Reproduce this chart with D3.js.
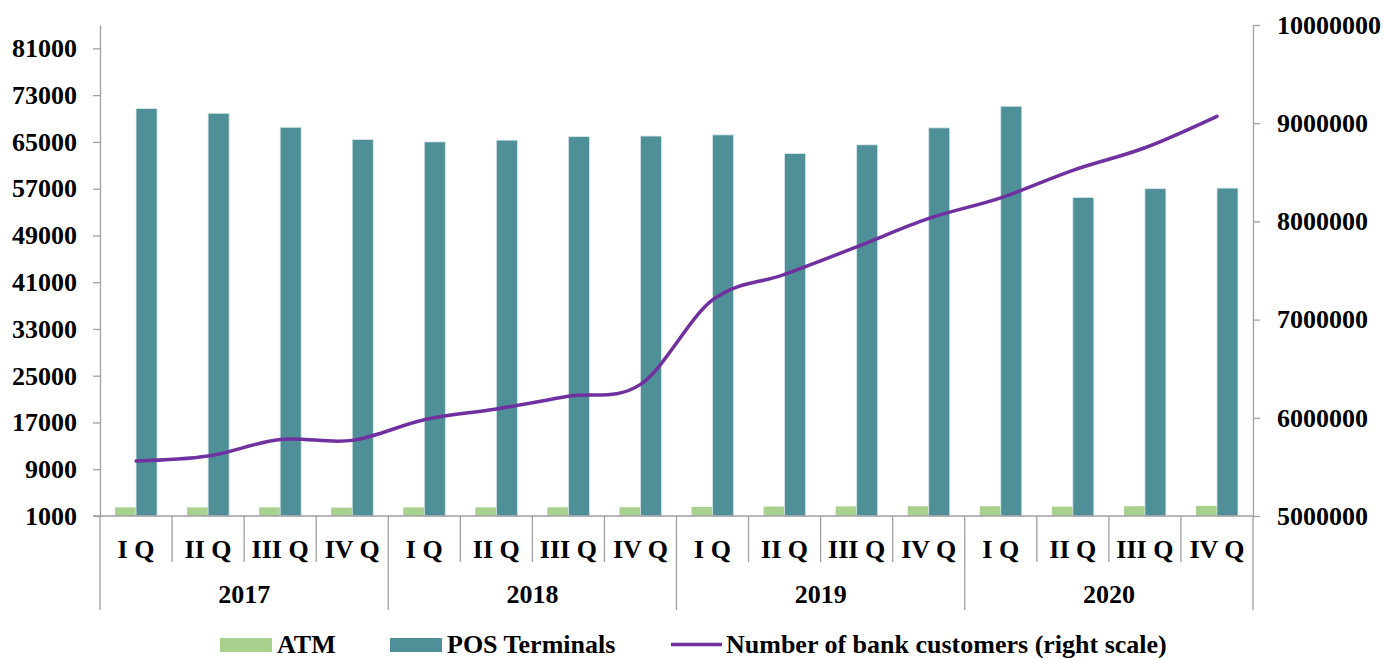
<!DOCTYPE html>
<html>
<head>
<meta charset="utf-8">
<script src="https://cdn.jsdelivr.net/npm/d3@7"></script>
<style>
  html, body { margin: 0; padding: 0; background: #fff; }
  svg text { font-family: "Liberation Serif", "Times New Roman", serif; font-weight: bold; fill: #000; }
</style>
</head>
<body>
<svg id="chart" width="1384" height="659"></svg>
<script>
const years = ["2017", "2018", "2019", "2020"];
const quarters = ["I Q", "II Q", "III Q", "IV Q"];
const atm = [2470, 2470, 2480, 2450, 2470, 2480, 2490, 2500, 2550, 2620, 2640, 2680, 2680, 2600, 2680, 2720];
const pos = [70700, 69900, 67500, 65400, 65000, 65300, 65900, 66000, 66200, 63000, 64500, 67400, 71100, 55500, 57000, 57100];
const customers = [5560000, 5610000, 5780000, 5770000, 5980000, 6090000, 6220000, 6340000, 7200000, 7460000, 7740000, 8030000, 8240000, 8520000, 8750000, 9070000];
const leftTicks = [1000, 9000, 17000, 25000, 33000, 41000, 49000, 57000, 65000, 73000, 81000];
const rightTicks = [5000000, 6000000, 7000000, 8000000, 9000000, 10000000];
const seriesNames = ["ATM", "POS Terminals", "Number of bank customers (right scale)"];

const colors = { atm: "#A9D18E", pos: "#4F8F97", line: "#7030A0", axis: "#A0A0A0" };
const m = { left: 100, right: 1253, top: 25, bottom: 516 };

const svg = d3.select("#chart");
const cats = d3.range(years.length * quarters.length);

const x = d3.scaleBand().domain(cats).range([m.left, m.right]);
const xSub = d3.scaleBand().domain(["atm", "pos"]).range([0, x.bandwidth()]).paddingOuter(0.714);
const yL = d3.scaleLinear().domain([1000, 85000]).range([m.bottom, m.top]);
const yR = d3.scaleLinear().domain([5000000, 10000000]).range([m.bottom, m.top]);

// Bars
const g = svg.append("g");
g.selectAll("rect.atm").data(atm).join("rect")
  .attr("class", "atm")
  .attr("x", (d, i) => x(i) + xSub("atm"))
  .attr("width", xSub.bandwidth())
  .attr("y", d => yL(d))
  .attr("height", d => yL(1000) - yL(d))
  .attr("fill", colors.atm);
g.selectAll("rect.pos").data(pos).join("rect")
  .attr("class", "pos")
  .attr("x", (d, i) => x(i) + xSub("pos"))
  .attr("width", xSub.bandwidth())
  .attr("y", d => yL(d))
  .attr("height", d => yL(1000) - yL(d))
  .attr("fill", colors.pos)
  .attr("stroke", "#d6e8ea").attr("stroke-width", 0.8);

// Left axis
const axL = svg.append("g").attr("transform", `translate(${m.left},0)`)
  .call(d3.axisLeft(yL).tickValues(leftTicks).tickFormat(d3.format("d")).tickSize(7).tickPadding(16).tickSizeOuter(0));
// Right axis
const axR = svg.append("g").attr("transform", `translate(${m.right},0)`)
  .call(d3.axisRight(yR).tickValues(rightTicks).tickFormat(d3.format("d")).tickSize(7).tickPadding(17).tickSizeOuter(0));
[axL, axR].forEach(a => {
  a.selectAll("path, line").attr("stroke", colors.axis).attr("stroke-width", 1.3);
  a.selectAll("text").attr("font-size", 26).attr("font-family", '"Liberation Serif", serif').attr("font-weight", "bold").attr("fill", "#000");
});

// Bottom category axis (multi-level)
const bx = svg.append("g");
bx.append("line").attr("x1", m.left - 7).attr("x2", m.right).attr("y1", m.bottom).attr("y2", m.bottom)
  .attr("stroke", colors.axis).attr("stroke-width", 1.3);
const bounds = d3.range(cats.length + 1);
bx.selectAll("line.sep").data(bounds).join("line")
  .attr("class", "sep")
  .attr("x1", i => i < cats.length ? x(i) : x(cats.length - 1) + x.bandwidth())
  .attr("x2", i => i < cats.length ? x(i) : x(cats.length - 1) + x.bandwidth())
  .attr("y1", m.bottom)
  .attr("y2", i => i % quarters.length === 0 ? 610 : 562)
  .attr("stroke", colors.axis).attr("stroke-width", 1.3);
bx.selectAll("text.q").data(cats).join("text")
  .attr("class", "q")
  .attr("x", i => x(i) + x.bandwidth() / 2)
  .attr("y", 557.5)
  .attr("text-anchor", "middle")
  .attr("font-size", 26)
  .text(i => quarters[i % quarters.length]);
bx.selectAll("text.y").data(years).join("text")
  .attr("class", "y")
  .attr("x", (d, j) => (x(j * 4) + x(j * 4 + 3) + x.bandwidth()) / 2)
  .attr("y", 603)
  .attr("text-anchor", "middle")
  .attr("font-size", 26)
  .text(d => d);

// Line
const line = d3.line()
  .x((d, i) => x(i) + x.bandwidth() / 2)
  .y(d => yR(d))
  .curve(d3.curveCatmullRom.alpha(0));
svg.append("path").datum(customers)
  .attr("d", line)
  .attr("fill", "none")
  .attr("stroke", colors.line)
  .attr("stroke-width", 3.5)
  .attr("stroke-linecap", "round");

// Legend
const lg = svg.append("g");
lg.append("rect").attr("x", 220).attr("y", 638).attr("width", 52).attr("height", 14).attr("fill", colors.atm);
lg.append("text").attr("x", 277).attr("y", 653).attr("font-size", 26).text(seriesNames[0]);
lg.append("rect").attr("x", 390).attr("y", 638).attr("width", 52).attr("height", 14).attr("fill", colors.pos);
lg.append("text").attr("x", 447).attr("y", 653).attr("font-size", 26).text(seriesNames[1]);
lg.append("line").attr("x1", 671).attr("x2", 722).attr("y1", 644.5).attr("y2", 644.5)
  .attr("stroke", colors.line).attr("stroke-width", 3.5);
lg.append("text").attr("x", 726).attr("y", 653).attr("font-size", 26).text(seriesNames[2]);
</script>
</body>
</html>
